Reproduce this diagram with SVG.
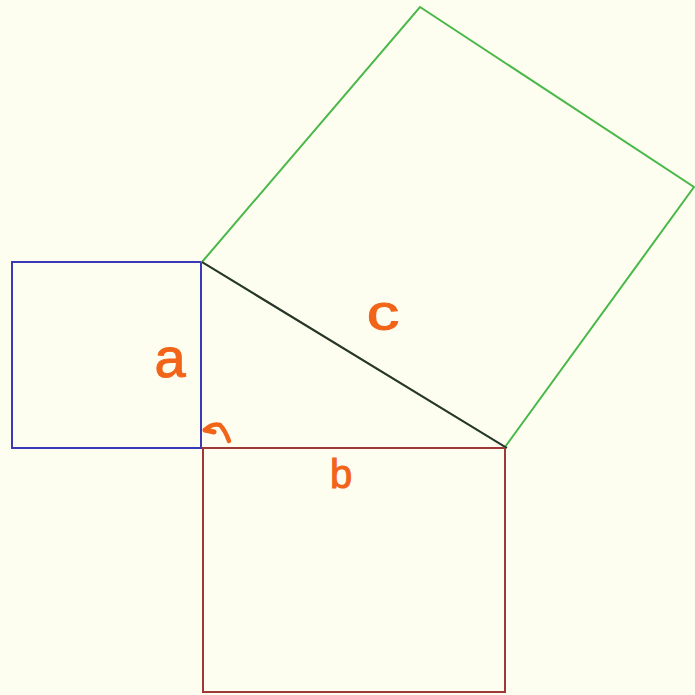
<svg xmlns="http://www.w3.org/2000/svg" width="695" height="695" viewBox="0 0 695 695">
<style>
.ln{fill:none;stroke-width:2;stroke-linejoin:miter}
.lbl{font-family:"Liberation Sans",Arial,sans-serif;fill:#f26418;text-anchor:middle;stroke:#f26418;stroke-width:1}
</style>
<rect width="695" height="695" fill="#fdfdf0"/>
<g id="square-a"><rect class="ln" x="12" y="262" width="189" height="186" stroke="#3a3ab8"/></g>
<g id="square-b"><rect class="ln" x="203" y="448" width="302" height="244" stroke="#a03838"/></g>
<g id="square-c"><polygon class="ln" points="202,262 420,7 694,187 505,447" stroke="#48b848"/></g>
<g id="hypotenuse"><line class="ln" x1="202" y1="262" x2="507" y2="448" stroke="#303030"/></g>
<g id="right-angle"><path d="M205,430 Q212,423 220,425 Q225,430 229,441" fill="none" stroke="#f26418" stroke-width="4.5" stroke-linecap="round"/><path d="M205,430 L214,432" stroke="#f26418" stroke-width="5" stroke-linecap="round"/></g>
<g id="labels">
<text class="lbl" x="170" y="377" font-size="56">a</text>
<text class="lbl" x="383" y="330" font-size="50" transform="translate(383 0) scale(1.3 1) translate(-383 0)">c</text>
<text class="lbl" x="341" y="488" font-size="40">b</text>
</g>
</svg>
